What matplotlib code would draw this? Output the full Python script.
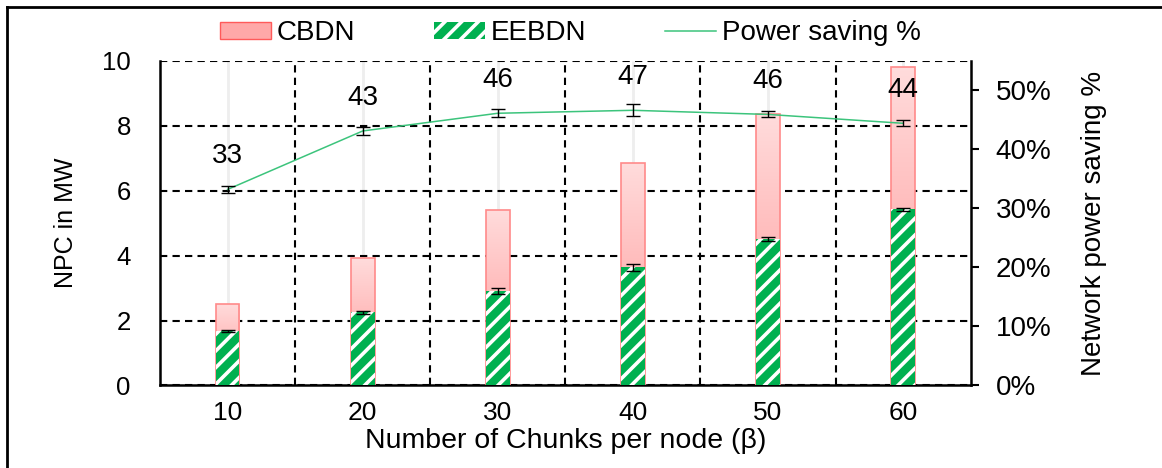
import numpy as np
import matplotlib
matplotlib.use("Agg")
import matplotlib.pyplot as plt
from matplotlib.colors import LinearSegmentedColormap
from matplotlib.patches import Patch
from matplotlib.lines import Line2D

plt.rcParams["font.family"] = ["Liberation Sans", "DejaVu Sans"]
plt.rcParams["hatch.linewidth"] = 2.6

chunks = ["10", "20", "30", "40", "50", "60"]
cbdn = [2.51, 3.93, 5.40, 6.84, 8.35, 9.80]
eebdn = [1.68, 2.25, 2.91, 3.64, 4.52, 5.43]
eebdn_err = [0.04, 0.04, 0.08, 0.11, 0.06, 0.05]
saving = [33.2, 43.1, 46.1, 46.6, 45.9, 44.4]
saving_err = [0.6, 0.6, 0.7, 1.0, 0.5, 0.5]
saving_labels = ["33", "43", "46", "47", "46", "44"]

fig = plt.figure(figsize=(11.62, 4.68), dpi=100)
ax = fig.add_axes([0.1377, 0.1763, 0.6977, 0.694])
x = np.arange(len(chunks))
w = 0.175
dash = (0, (3.5, 2.5))

# light grey drop lines above the bars
ax.vlines(x, cbdn, 10, color="#eeeeee", lw=2, zorder=1)

# CBDN bars with a pink vertical gradient
pink = LinearSegmentedColormap.from_list("pink", ["#FF9696", "#FFDCDC"])
grad = np.linspace(0, 1, 256).reshape(-1, 1)
bars = ax.bar(x, cbdn, w, color="none", edgecolor="#FF8A8A", lw=1.2, zorder=3)
for b in bars:
    im = ax.imshow(grad, extent=[b.get_x(), b.get_x() + b.get_width(), 0, b.get_height()],
                   origin="lower", aspect="auto", cmap=pink, zorder=2)
    im.set_clip_path(b)

ax.bar(x, eebdn, w, color="#00B050", edgecolor="white", lw=0, hatch="//", zorder=4)
ax.errorbar(x, eebdn, yerr=eebdn_err, fmt="none", ecolor="black", elinewidth=1,
            capsize=5, capthick=1, zorder=5)

ax.set_xlim(-0.5, 5.5)
ax.set_ylim(0, 10)
ax.set_xticks(x)
ax.set_xticklabels(chunks)
ax.set_yticks([0, 2, 4, 6, 8, 10])
ax.set_xticks(np.arange(0.5, 5, 1), minor=True)
ax.tick_params(axis="both", which="both", length=0)
ax.tick_params(axis="y", labelsize=18.5, pad=21)
ax.tick_params(axis="x", labelsize=19, pad=11)
ax.grid(axis="y", which="major", color="black", ls=dash, lw=1.5, zorder=0)
ax.grid(axis="x", which="minor", color="black", ls=dash, lw=1.5, zorder=0)
ax.grid(axis="x", which="major", visible=False)
ax.spines["top"].set_visible(False)
ax.spines["right"].set_visible(False)
for s in ["left", "bottom"]:
    ax.spines[s].set_linewidth(1.8)
ax.set_ylabel("NPC in MW", fontsize=18, labelpad=17)
ax.set_xlabel("Number of Chunks per node (β)", fontsize=20.5, labelpad=2)

ax2 = ax.twinx()
ax2.plot(x, saving, color="#3CC47C", lw=1.1, zorder=3)
ax2.errorbar(x, saving, yerr=saving_err, fmt="none", ecolor="black", elinewidth=1,
             capsize=5, capthick=1, zorder=4)
for xi, yi, t in zip(x, saving, saving_labels):
    ax2.annotate(t, (xi, yi), xytext=(0, 24), textcoords="offset points",
                 ha="center", va="center", fontsize=20)
ax2.set_ylim(0, 55)
ax2.set_yticks([0, 10, 20, 30, 40, 50])
ax2.set_yticklabels([f"{v}%" for v in [0, 10, 20, 30, 40, 50]])
ax2.tick_params(axis="y", length=6, width=1.5, labelsize=20, pad=12, direction="out")
for s in ["top", "left", "bottom"]:
    ax2.spines[s].set_visible(False)
ax2.spines["right"].set_linewidth(1.8)
ax2.set_ylabel("Network power saving %", fontsize=20, labelpad=21)

handles = [
    Patch(facecolor="#FFA8A8", edgecolor="#FF5A5A", lw=1),
    Patch(facecolor="#00B050", edgecolor="white", lw=0, hatch="//"),
    Line2D([], [], color="#3CC47C", lw=1.1),
]
fig.legend(handles, ["CBDN", "EEBDN", "Power saving %"], loc="center",
           bbox_to_anchor=(0.491, 0.929), ncol=3, frameon=False, fontsize=20,
           handlelength=1.83, handleheight=0.58, handletextpad=0.2, columnspacing=2.85)

# outer frame (left and top edges)
fig.add_artist(Line2D([7 / 1162, 7 / 1162], [0, 1 - 7 / 468], color="black", lw=2))
fig.add_artist(Line2D([7 / 1162, 1], [1 - 7 / 468, 1 - 7 / 468], color="black", lw=2))

fig.savefig("out.png", dpi=100)
